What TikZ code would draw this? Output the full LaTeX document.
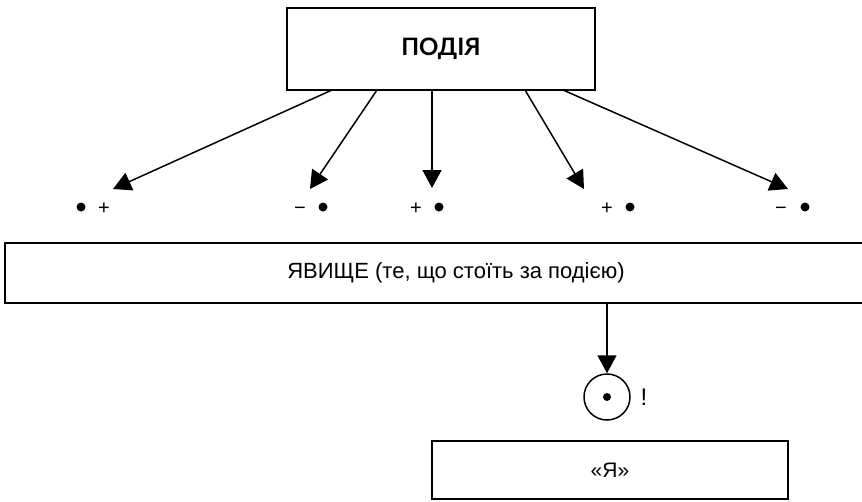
\documentclass[tikz,border=0pt]{standalone}
\usepackage{fontspec}
\setmainfont{Liberation Sans}
\newfontfamily\headfont{Lato}
\usetikzlibrary{arrows.meta}
\tikzset{
  boxstyle/.style={draw, line width=1.7pt, rectangle, inner sep=0pt},
  arr/.style={line width=1.5pt, -{Triangle[length=18pt,width=19pt]}},
  dotstyle/.style={circle, fill, inner sep=0pt, minimum size=9pt},
  sign/.style={inner sep=0pt, anchor=base, font=\fontsize{20}{20}\selectfont},
}
\begin{document}
\begin{tikzpicture}[x=1pt,y=-1pt]
\useasboundingbox (0,0) rectangle (862,501);
% boxes
\node[boxstyle, minimum width=308pt, minimum height=82pt, font=\headfont\bfseries\fontsize{24}{24}\selectfont] (top) at (441,49) {ПОДІЯ};
\node[boxstyle, minimum width=902pt, minimum height=60pt, font=\fontsize{22}{22}\selectfont] (mid) at (456,273) {ЯВИЩЕ (те, що стоїть за подією)};
\node[boxstyle, minimum width=356pt, minimum height=58pt, font=\fontsize{21}{21}\selectfont] (self) at (610,470) {«Я»};
% dots and signs
\node[dotstyle] (d1) at (81,207) {};
\node[sign] (p1) at (104,214.5) {+};
\node[sign] (m2) at (300,214.5) {−};
\node[dotstyle] (d2) at (323,207) {};
\node[sign] (p3) at (416,214.5) {+};
\node[dotstyle] (d3) at (439,207) {};
\node[sign] (p4) at (607,214.5) {+};
\node[dotstyle] (d4) at (630,207) {};
\node[sign] (m5) at (781,214.5) {−};
\node[dotstyle] (d5) at (805,207) {};
% arrow starts and tips
\coordinate (s1) at (332,90);
\coordinate (s2) at (377,90);
\coordinate (s3) at (432,90);
\coordinate (s4) at (525,90);
\coordinate (s5) at (563,90);
\coordinate (t1) at (113,189);
\coordinate (t2) at (310,189);
\coordinate (t3) at (432,188);
\coordinate (t4) at (584,189);
\coordinate (t5) at (788,189);
\foreach \i in {1,...,5} \draw[arr] (s\i) -- (t\i);
% circle
\node[draw, circle, line width=1.5pt, minimum size=46pt, inner sep=0pt] (me) at (607,397) {};
\node[dotstyle, minimum size=8pt] (med) at (me.center) {};
\node[inner sep=0pt, anchor=base, font=\fontsize{24}{24}\selectfont] (excl) at (644,405) {!};
\draw[arr] (mid.south -| me.north) -- (me.north);
\end{tikzpicture}
\end{document}
